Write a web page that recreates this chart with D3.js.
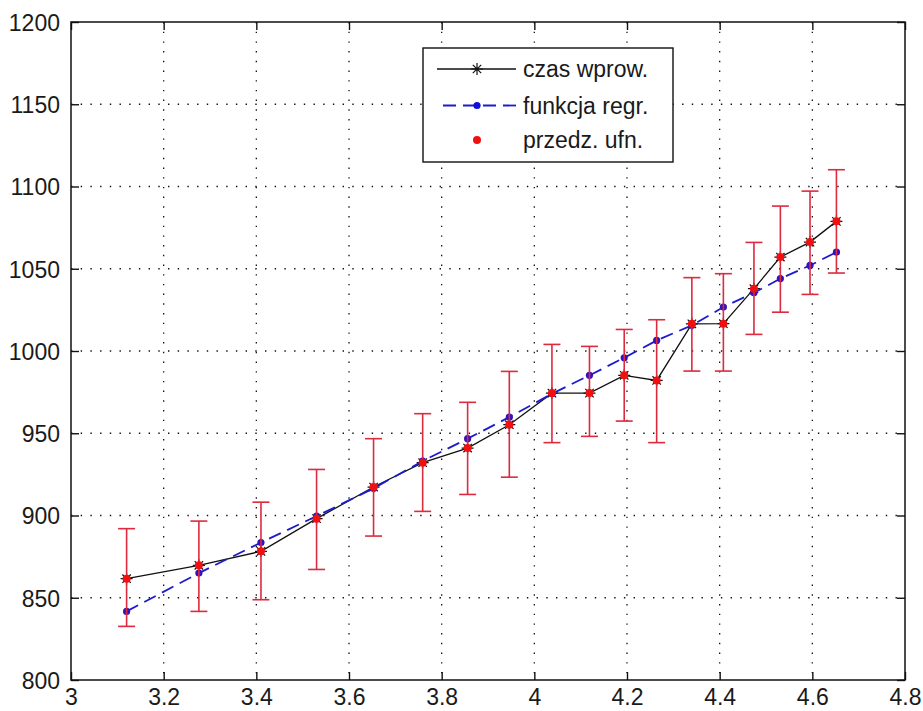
<!DOCTYPE html>
<html>
<head>
<meta charset="utf-8">
<script src="https://cdn.jsdelivr.net/npm/d3@7"></script>
<style>
  body { margin: 0; background: #fff; }
  text { font-family: "Liberation Sans", Arial, sans-serif; fill: #1a1a1a; }
</style>
</head>
<body>
<div id="chart-area"></div>
<script>
// values
const xVals = [3.120, 3.276, 3.410, 3.530, 3.653, 3.759, 3.856, 3.946, 4.038,
    4.119, 4.194, 4.264, 4.340, 4.408, 4.474, 4.531, 4.595, 4.652];
const czas = [861.6, 869.7, 878.2, 898.1, 917.3, 932.1, 941.0, 955.2, 974.4,
    974.4, 985.2, 982.1, 1016.5, 1016.6, 1037.9, 1057.1, 1066.2, 1078.8];
const regr = [841.7, 865.0, 883.6, 899.6, 916.5, 933.1, 946.7, 959.8, 974.0,
    985.2, 995.9, 1006.4, 1015.6, 1026.7, 1035.4, 1044.0, 1052.0, 1060.1];
const ufnLow = [832.6, 841.7, 848.8, 867.2, 887.5, 902.5, 912.8, 923.3, 944.3,
    948.1, 957.4, 944.3, 987.8, 987.8, 1010.1, 1023.6, 1034.4, 1047.4];
const ufnHigh = [892.0, 896.6, 908.1, 928.0, 946.7, 961.9, 968.8, 987.6, 1004.0,
    1002.8, 1013.1, 1019.0, 1044.6, 1047.0, 1066.0, 1088.1, 1097.2, 1110.2];

const xTicks = [3, 3.2, 3.4, 3.6, 3.8, 4, 4.2, 4.4, 4.6, 4.8];
const yTicks = [800, 850, 900, 950, 1000, 1050, 1100, 1150, 1200];
const legendLabels = ["czas wprow.", "funkcja regr.", "przedz. ufn."];

const margin = { left: 71, right: 18, top: 22, bottom: 31 },
    width = 923 - margin.left - margin.right,
    height = 711 - margin.top - margin.bottom;

const svg = d3.select("#chart-area").append("svg")
    .attr("width", 923)
    .attr("height", 711);

const g = svg.append("g")
    .attr("transform", "translate(" + margin.left + "," + margin.top + ")");

// Scales
const x = d3.scaleLinear().domain([3, 4.8]).range([0, width]);
const y = d3.scaleLinear().domain([800, 1200]).range([height, 0]);

// Dotted grid
g.selectAll(".vgrid").data(xTicks.slice(1, -1)).enter().append("line")
    .attr("x1", d => x(d)).attr("x2", d => x(d))
    .attr("y1", 0).attr("y2", height)
    .attr("stroke", "#111").attr("stroke-width", 1.3)
    .attr("stroke-dasharray", "1.4,8.3");
g.selectAll(".hgrid").data(yTicks.slice(1, -1)).enter().append("line")
    .attr("x1", 0).attr("x2", width)
    .attr("y1", d => y(d)).attr("y2", d => y(d))
    .attr("stroke", "#111").attr("stroke-width", 1.3)
    .attr("stroke-dasharray", "1.4,8.3");

// Axes (ticks inside, on all four sides)
const tl = 8;
const xAxisCall = d3.axisBottom(x).tickValues(xTicks).tickSizeInner(-tl).tickSizeOuter(0)
    .tickPadding(9).tickFormat(d3.format("~g"));
const yAxisCall = d3.axisLeft(y).tickValues(yTicks).tickSizeInner(-tl).tickSizeOuter(0)
    .tickPadding(tl + 3).tickFormat(d3.format("d"));

const xAxis = g.append("g").attr("transform", "translate(0," + height + ")").call(xAxisCall);
const yAxis = g.append("g").call(yAxisCall);
const xTop = g.append("g").call(d3.axisTop(x).tickValues(xTicks).tickSizeInner(-tl).tickSizeOuter(0).tickFormat(""));
const yRight = g.append("g").attr("transform", "translate(" + width + ",0)")
    .call(d3.axisRight(y).tickValues(yTicks).tickSizeInner(-tl).tickSizeOuter(0).tickFormat(""));

[xAxis, yAxis, xTop, yRight].forEach(a => {
    a.select(".domain").remove();
    a.selectAll(".tick line").attr("stroke", "#111").attr("stroke-width", 1.4);
    a.selectAll("text").style("font-size", "23px").attr("fill", "#1a1a1a");
});
yAxis.selectAll("text").attr("dy", "0.36em");

g.append("rect")
    .attr("width", width).attr("height", height)
    .attr("fill", "none").attr("stroke", "#111").attr("stroke-width", 1.5);

// czas wprow. : black line with asterisks
const pts = xVals.map((v, i) => ({ x: v, c: czas[i], r: regr[i], lo: ufnLow[i], hi: ufnHigh[i] }));

const lineC = d3.line().x(d => x(d.x)).y(d => y(d.c));
const lineR = d3.line().x(d => x(d.x)).y(d => y(d.r));

g.append("path").attr("d", lineC(pts))
    .attr("fill", "none").attr("stroke", "#111").attr("stroke-width", 1.3);

function star(sel, s) {
    sel.append("path")
        .attr("d", "M" + (-s) + ",0H" + s + "M0," + (-s) + "V" + s +
            "M" + (-s * 0.7) + "," + (-s * 0.7) + "L" + (s * 0.7) + "," + (s * 0.7) +
            "M" + (-s * 0.7) + "," + (s * 0.7) + "L" + (s * 0.7) + "," + (-s * 0.7))
        .attr("stroke", "#111").attr("stroke-width", 1.2).attr("fill", "none");
}

g.selectAll(".star").data(pts).enter().append("g")
    .attr("transform", d => "translate(" + x(d.x) + "," + y(d.c) + ")")
    .each(function() { star(d3.select(this), 6); });

// funkcja regr. : blue dashed with dots
g.append("path").attr("d", lineR(pts))
    .attr("fill", "none").attr("stroke", "#1c1ccc").attr("stroke-width", 1.8)
    .attr("stroke-dasharray", "13,7");
g.selectAll(".rdot").data(pts).enter().append("circle")
    .attr("cx", d => x(d.x)).attr("cy", d => y(d.r)).attr("r", 3.6)
    .attr("fill", "#3311bb");

// przedz. ufn. : red error bars with dots
const cap = 8.5;
const eb = g.selectAll(".eb").data(pts).enter().append("g")
    .attr("stroke", "#dd2a3e").attr("stroke-width", 1.6);
eb.append("line").attr("x1", d => x(d.x)).attr("x2", d => x(d.x))
    .attr("y1", d => y(d.lo)).attr("y2", d => y(d.hi));
eb.append("line").attr("x1", d => x(d.x) - cap).attr("x2", d => x(d.x) + cap)
    .attr("y1", d => y(d.lo)).attr("y2", d => y(d.lo));
eb.append("line").attr("x1", d => x(d.x) - cap).attr("x2", d => x(d.x) + cap)
    .attr("y1", d => y(d.hi)).attr("y2", d => y(d.hi));
g.selectAll(".edot").data(pts).enter().append("circle")
    .attr("cx", d => x(d.x)).attr("cy", d => y(d.c)).attr("r", 4)
    .attr("fill", "#f01010");

// Legend
const lg = svg.append("g").attr("transform", "translate(423,48)");
lg.append("rect").attr("width", 250).attr("height", 114)
    .attr("fill", "#fff").attr("stroke", "#111").attr("stroke-width", 1.4);

const rows = [21, 57.5, 92];
const l1 = lg.append("g").attr("transform", "translate(0," + rows[0] + ")");
l1.append("line").attr("x1", 14).attr("x2", 93).attr("stroke", "#111").attr("stroke-width", 1.3);
l1.append("g").attr("transform", "translate(54,0)").each(function() { star(d3.select(this), 6); });

const l2 = lg.append("g").attr("transform", "translate(0," + rows[1] + ")");
l2.append("line").attr("x1", 20).attr("x2", 93).attr("stroke", "#1c1ccc").attr("stroke-width", 1.8)
    .attr("stroke-dasharray", "13,7");
l2.append("circle").attr("cx", 54).attr("r", 3.6).attr("fill", "#1010dd");

const l3 = lg.append("g").attr("transform", "translate(0," + rows[2] + ")");
l3.append("circle").attr("cx", 54).attr("r", 4).attr("fill", "#f01010");

lg.selectAll(".ltext").data(legendLabels).enter().append("text")
    .attr("x", 100).attr("y", (d, i) => rows[i])
    .attr("dy", "0.35em")
    .style("font-size", "23px")
    .text(d => d);
</script>
</body>
</html>
